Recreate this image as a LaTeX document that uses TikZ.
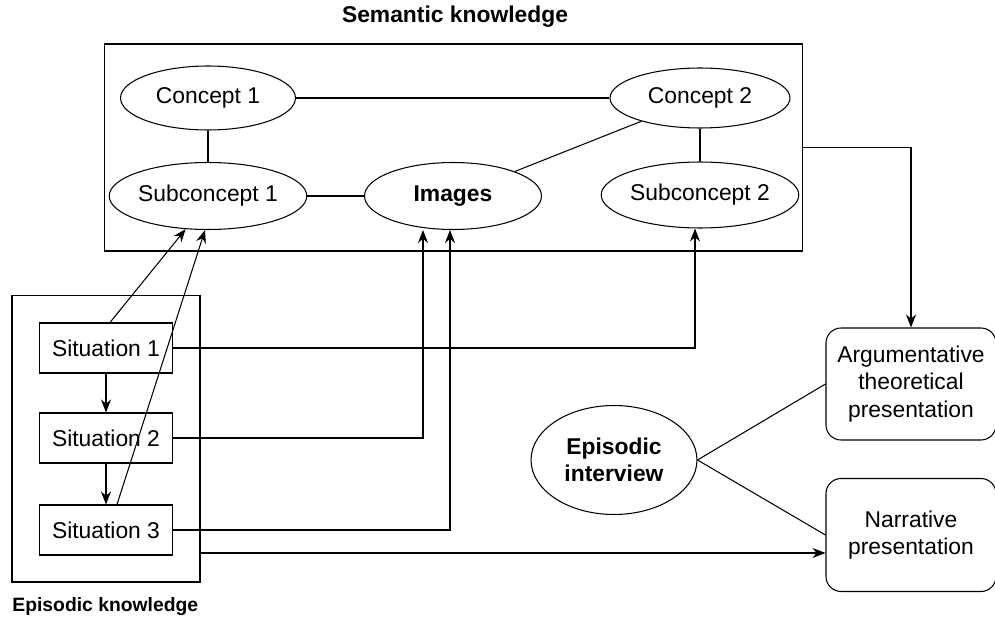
\documentclass[tikz,border=0pt]{standalone}
\usepackage{fontspec}
\setmainfont{Liberation Sans}
\usetikzlibrary{shapes.geometric,arrows.meta}

\tikzset{
  concept/.style={draw, ellipse, inner sep=0pt, minimum width=3.54cm, minimum height=1.34cm},
  situation/.style={draw, rectangle, minimum width=2.66cm, minimum height=1cm},
  presentation/.style={draw, rounded corners=0.3cm, align=center, minimum width=3.4cm, minimum height=2.26cm},
  frame/.style={draw, inner sep=0pt},
  link/.style={-{Stealth[length=2.6mm,width=2mm]}}
}

\begin{document}
\begin{tikzpicture}[x=0.02cm, y=-0.02cm, line width=0.6pt, font=\fontsize{13}{15.5}\selectfont]
\useasboundingbox (0,0) rectangle (995,625);
% semantic knowledge
\node[frame, minimum width=13.98cm, minimum height=4.14cm] (sem) at (453.5,147.5) {};
\node[font=\fontsize{13}{15.5}\selectfont\bfseries] (semtitle) at (455,17) {Semantic knowledge};
\node[concept, minimum width=3.5cm, minimum height=1.28cm] (c1) at (208,98) {Concept 1};
\node[concept] (s1) at (208,196) {Subconcept 1};
\node[concept, font=\fontsize{13}{15.5}\selectfont\bfseries] (img) at (453,196) {Images};
\node[concept, minimum width=3.6cm, minimum height=1.2cm] (c2) at (700,98) {Concept 2};
\node[concept, minimum width=3.6cm, minimum height=1.32cm] (s2) at (700,195) {Subconcept 2};
\draw (c1) -- (c2);
\draw (c1) -- (s1);
\draw (s1) -- (img);
\draw (img) -- (c2);
\draw (c2) -- (s2);
% episodic knowledge
\node[frame, minimum width=3.76cm, minimum height=5.74cm] (epi) at (106,438.5) {};
\node[anchor=west, font=\fontsize{11}{13}\selectfont\bfseries] (epititle) at (6,607) {Episodic knowledge};
\node[situation] (sit1) at (106,348) {Situation 1};
\node[situation] (sit2) at (106,438) {Situation 2};
\node[situation] (sit3) at (106,530) {Situation 3};
\draw[link] (sit1) -- (sit2);
\draw[link] (sit2) -- (sit3);
\draw[link] ([xshift=0.08cm]sit1.north) -- (s1.236);
\draw[link] ([xshift=0.22cm]sit3.north) -- (s1.265);
\draw[link] (sit1.east) -| ([xshift=-0.1cm]s2.south);
\draw[link] (sit2.east) -| ([xshift=-0.6cm]img.south);
\draw[link] (sit3.east) -| ([xshift=-0.06cm]img.south);
% presentations
\node[concept, minimum width=3.32cm, minimum height=2.18cm, align=center, font=\fontsize{13}{15.5}\selectfont\bfseries] (ei) at (614,460) {Episodic\\interview};
\node[presentation, minimum height=2.24cm] (arg) at (911,384) {Argumentative\\theoretical\\presentation};
\node[presentation] (nar) at (911,535) {Narrative\\presentation};
\draw (ei.east) -- (arg.west);
\draw (ei.east) -- (nar.west);
\draw[link] (sem.east) -| (arg.north);
\coordinate (epiout) at (200,553);
\draw[link] (epiout) -- (epiout -| nar.west);
\end{tikzpicture}
\end{document}
